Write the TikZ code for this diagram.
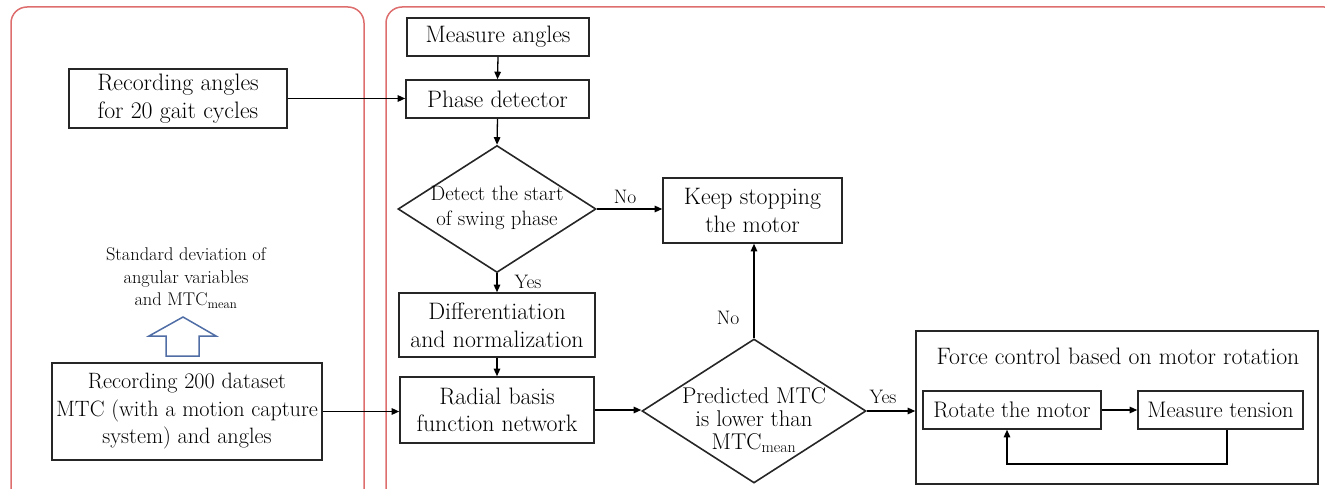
\documentclass[tikz,border=0pt]{standalone}
\usetikzlibrary{shapes.geometric,arrows.meta,calc}
\definecolor{panelred}{RGB}{222,110,110}
\definecolor{arrowblue}{RGB}{80,110,165}
\begin{document}
\begin{tikzpicture}[x=1pt,y=-1pt,
 box/.style={draw=black!85,line width=1.6pt,inner sep=0pt,align=center,font=\fontsize{23.8}{27.5}\selectfont},
 txt/.style={inner sep=0pt,align=center,font=\fontsize{23.8}{27.5}\selectfont},
 dia/.style={draw=black!85,line width=1.6pt,shape=diamond,inner sep=0pt},
 lbl/.style={font=\fontsize{19.5}{22}\selectfont,inner sep=0pt},
 arr/.style={line width=1.3pt,-{Triangle[length=7.5pt,width=6.5pt]}},
 panel/.style={draw=panelred,line width=1.5pt,rounded corners=16pt}]
\useasboundingbox (0,0) rectangle (1325,489);
\clip (0,0) rectangle (1325,489);
% panels
\draw[panel] (11,7) rectangle (364,505);
\draw[panel] (386,7) rectangle (1340,505);
% left panel
\node[box,minimum width=218pt,minimum height=59pt] (rec1) at (178,98.5) {Recording angles\\for 20 gait cycles};
\node[box,minimum width=270pt,minimum height=97pt,font=\fontsize{22.2}{27.5}\selectfont] (rec200) at (187,411.5) {Recording 200 dataset\\MTC (with a motion capture\\system) and angles};
\node[txt,font=\fontsize{18.4}{22.5}\selectfont] (sd) at (186,278) {Standard deviation of\\angular variables\\and MTC\textsubscript{mean}};
\draw[arrowblue,line width=1.5pt,fill=white] (183,317) -- (216,336) -- (199,336) -- (199,356) -- (166,356) -- (166,336) -- (149,336) -- cycle;
% right panel
\node[box,minimum width=182pt,minimum height=38pt] (ma) at (498,37) {Measure angles};
\node[box,minimum width=183pt,minimum height=38pt] (pd) at (497.5,99) {Phase detector};
\node[dia,minimum width=198pt,minimum height=127pt] (d1) at (497,209) {};
\node[txt,font=\fontsize{20.8}{25}\selectfont] (d1t) at (497,208) {Detect the start\\of swing phase};
\node[box,minimum width=179pt,minimum height=65pt] (ks) at (752.5,210.5) {Keep stopping\\the motor};
\node[box,minimum width=196pt,minimum height=64pt] (diff) at (497,325) {Differentiation\\and normalization};
\node[box,minimum width=194pt,minimum height=66pt] (rbf) at (497,410) {Radial basis\\function network};
\node[dia,minimum width=224pt,minimum height=144pt] (d2) at (754,411) {};
\node[txt,font=\fontsize{22.8}{23}\selectfont] (d2t) at (754,420) {Predicted MTC\\is lower than\\MTC\textsubscript{mean}};
\node[box,minimum width=402pt,minimum height=153pt] (fc) at (1117,407.5) {};
\node[txt] (fct) at (1118,356) {Force control based on motor rotation};
\node[box,minimum width=178pt,minimum height=38pt,font=\fontsize{22.5}{27}\selectfont] (rot) at (1012,410) {Rotate the motor};
\node[box,minimum width=165pt,minimum height=38pt,font=\fontsize{22.5}{27}\selectfont] (mt) at (1220.5,410) {Measure tension};
% labels
\node[lbl] (no1) at (625,197) {No};
\node[lbl] (yes1) at (528,282) {Yes};
\node[lbl] (no2) at (728,318) {No};
\node[lbl] (yes2) at (883,397) {Yes};
% connectors
\draw[arr] (ma.south) -- (pd.north);
\draw[arr] (rec1.east) -- (rec1.east -| pd.west);
\draw[arr] (pd.south) -- (d1.north);
\draw[arr] (d1.east) -- (d1.east -| ks.west);
\draw[arr] (d1.south) -- (diff.north);
\draw[arr] (diff.south) -- (rbf.north);
\draw[arr] (rbf.east) -- (rbf.east -| d2.west);
\draw[arr] (d2.north) -- (d2.north |- ks.south);
\draw[arr] (d2.east) -- (d2.east -| fc.west);
\draw[arr] (rot.east) -- (mt.west);
\draw[arr] (rec200.east) -- (rec200.east -| rbf.west);
\coordinate (fbA) at (1227,464);
\coordinate (fbB) at (1007,464);
\draw[arr] (fbA |- mt.south) -- (fbA) -- (fbB) -- (fbB |- rot.south);
\end{tikzpicture}
\end{document}
